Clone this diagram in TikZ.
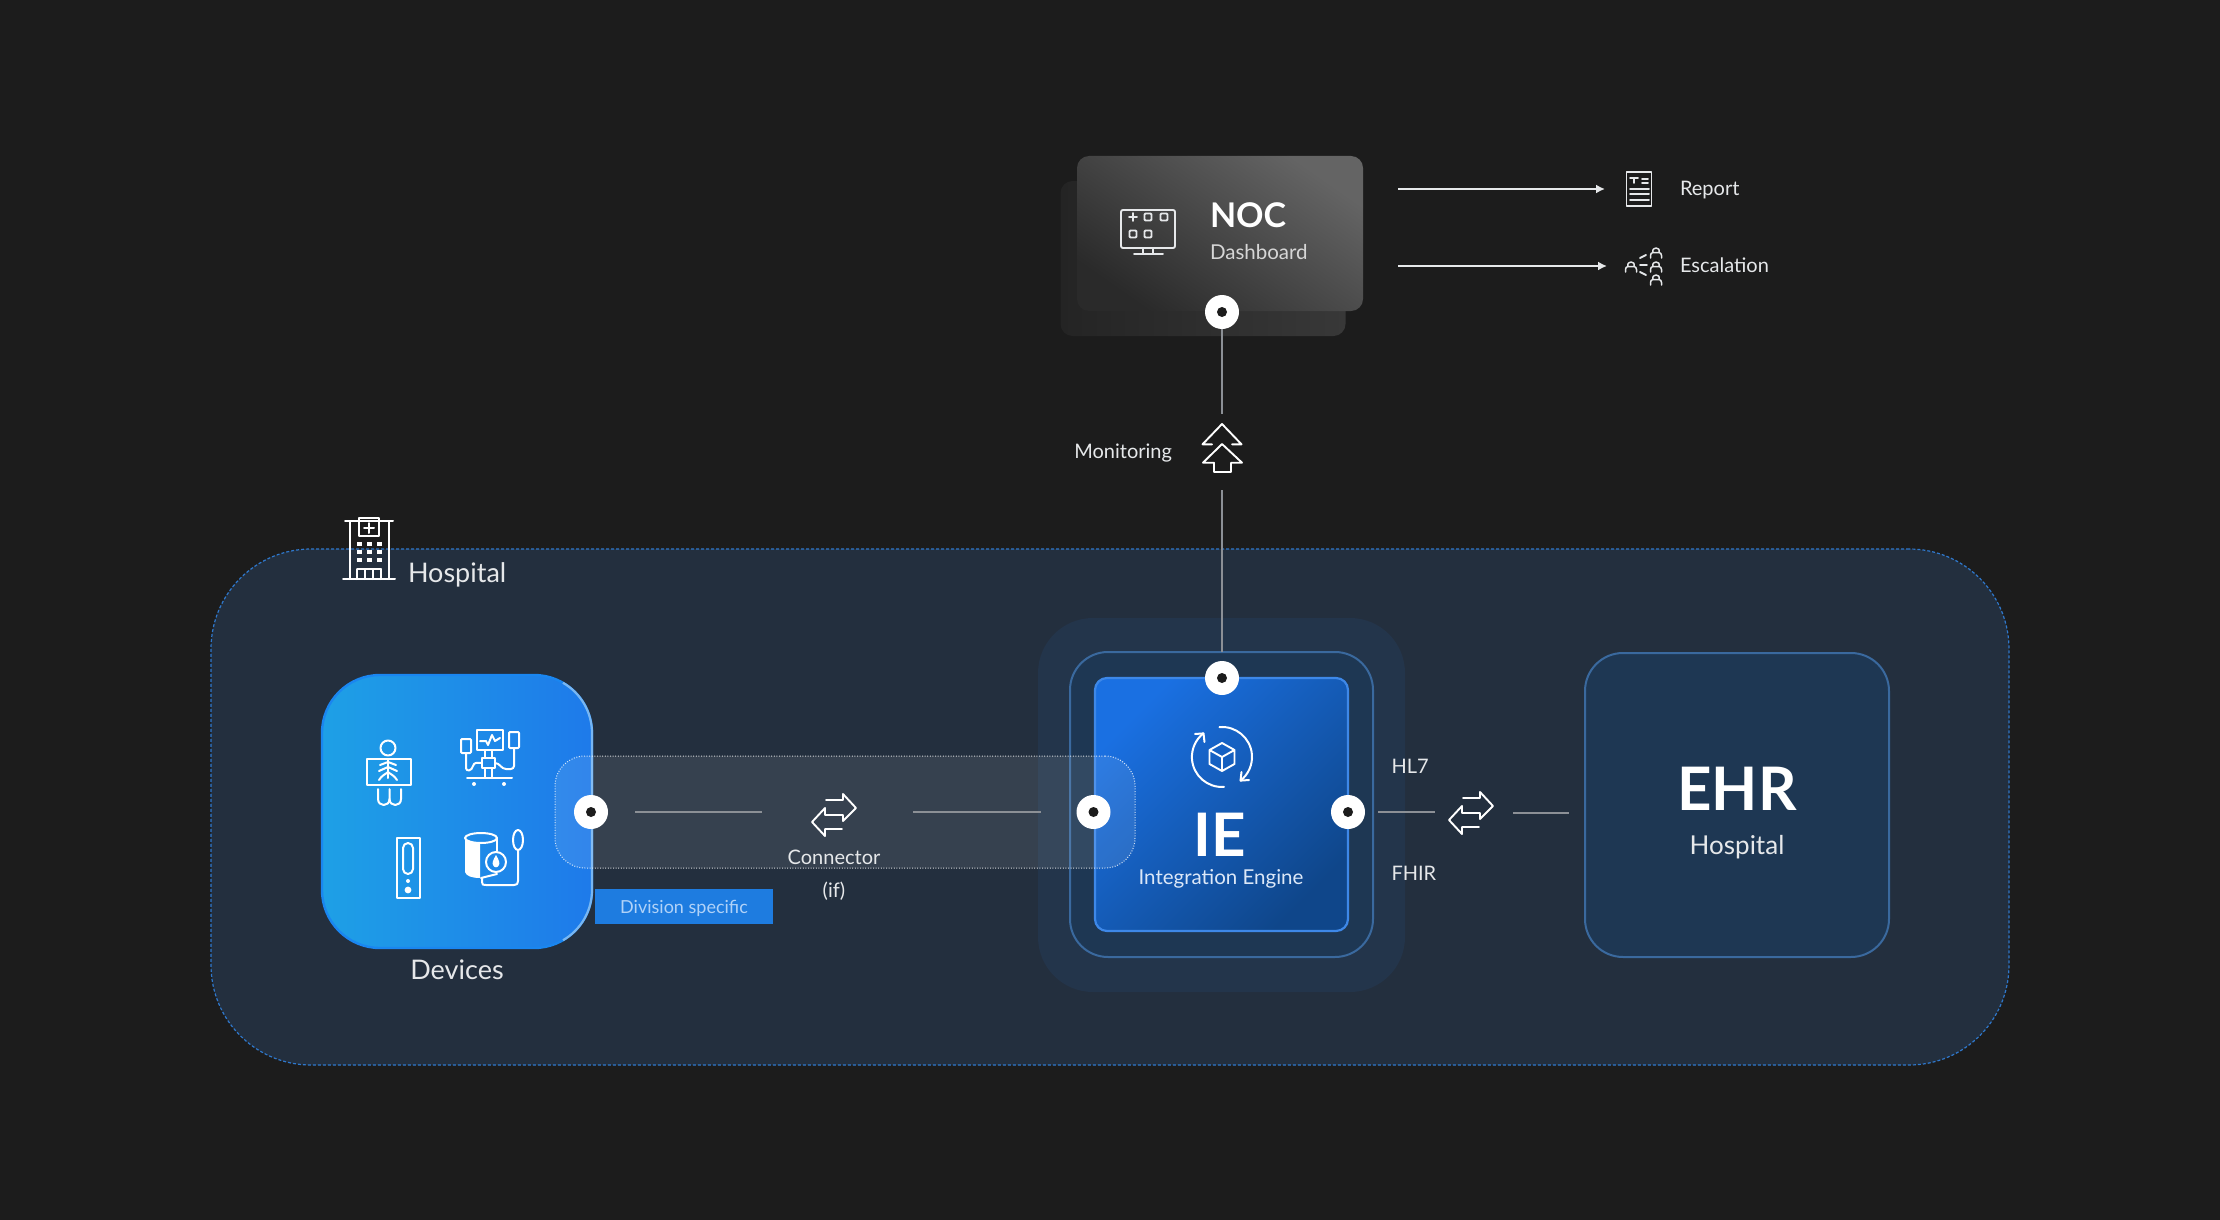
\documentclass[tikz,border=0pt]{standalone}
\usepackage{fontspec}
\setmainfont{Lato}
\usetikzlibrary{arrows.meta,calc}
\definecolor{bgc}{HTML}{1C1C1C}
\definecolor{hospfill}{HTML}{232F3E}
\definecolor{hospline}{HTML}{2F78CC}
\definecolor{glowfill}{HTML}{23354B}
\definecolor{midfill}{HTML}{1E3753}
\definecolor{midline}{HTML}{3A699E}
\definecolor{txt}{HTML}{E6E8EA}
\definecolor{linec}{HTML}{8C9096}
\definecolor{divc}{HTML}{1E7CE0}
\tikzset{
  x=1pt,y=-1pt,
  box/.style={rectangle,inner sep=0pt,outer sep=0pt},
  port/.style={circle,fill=white,minimum size=34pt,inner sep=0pt,outer sep=0pt},
  dot/.style={fill=bgc,draw=none},
  icon/.style={draw=white,line width=2pt,line cap=round,line join=round,fill=none},
  thinicon/.style={draw=#1,line width=1.9pt,line cap=round,line join=round,fill=none},
  thinicon/.default={txt},
  label/.style={text=txt,inner sep=0pt,outer sep=0pt},
  link/.style={draw=linec,line width=1.8pt},
  arr/.style={draw=txt,line width=1.8pt,-{Latex[length=9pt,width=9pt]}},
  slot/.style={rectangle,inner sep=0pt,outer sep=0pt},
}
\newcommand{\portdot}[1]{\fill[dot] (#1) circle[radius=5pt];}
\newcommand{\swapicon}[1]{%
  \begin{scope}[shift={(#1)}]
    \draw[thinicon=white] (-8,-15) -- (9,-15) -- (9,-21) -- (22,-7) -- (9,6) -- (9,0) -- (-9,0) -- (-9,-7) -- (-22,7) -- (-9,21) -- (-9,14) -- (8,14);
  \end{scope}}
\newcommand{\personglyph}[2]{%
  \draw[draw=txt,line width=1.5pt,line cap=round,line join=round] (#1-5.5,#2+5) -- (#1-5.5,#2+2.5) .. controls (#1-5.5,#2+0.5) and (#1-4.5,#2) .. (#1-3,#2-0.5) .. controls (#1-5,#2-6.5) and (#1+5,#2-6.5) .. (#1+3,#2-0.5) .. controls (#1+4.5,#2) and (#1+5.5,#2+0.5) .. (#1+5.5,#2+2.5) -- (#1+5.5,#2+5) (#1-3,#2-0.5) -- (#1+3,#2-0.5);}
\begin{document}
\begin{tikzpicture}
\useasboundingbox (0,0) rectangle (2220,1220);
\fill[bgc] (0,0) rectangle (2220,1220);

% NOC cards
\node[box,minimum width=285pt,minimum height=155pt,rounded corners=12pt,left color={rgb,255:red,36;green,36;blue,36},right color={rgb,255:red,56;green,56;blue,56}] (nocback) at (1203,258.5) {};
\node[box,minimum width=286pt,minimum height=155pt,rounded corners=12pt,shading=axis,left color={rgb,255:red,42;green,42;blue,42},right color={rgb,255:red,100;green,100;blue,100},shading angle=145] (noc) at (1220,233.5) {};

% Hospital region
\node[box,minimum width=1798pt,minimum height=516pt,rounded corners=100pt,fill=hospfill,draw=hospline,line width=1.2pt,dash pattern=on 3pt off 2pt] (hospital) at (1110,807) {};

% IE frames
\node[box,minimum width=367pt,minimum height=374pt,rounded corners=55pt,fill=glowfill] (ieglow) at (1221.5,805) {};
\node[box,minimum width=303pt,minimum height=305pt,rounded corners=38pt,fill=midfill,draw=midline,line width=2pt] (iemid) at (1221.5,804.5) {};
\node[box,minimum width=253pt,minimum height=253pt,rounded corners=12pt,shading=axis,left color={rgb,255:red,26;green,112;blue,226},right color={rgb,255:red,15;green,70;blue,138},shading angle=45,draw={rgb,255:red,62;green,136;blue,232},line width=2.2pt] (ie) at (1221.5,804.5) {};

% EHR
\node[box,minimum width=304pt,minimum height=304pt,rounded corners=38pt,fill=midfill,draw=midline,line width=2pt] (ehr) at (1737,805) {};

% Devices
\node[box,minimum width=270pt,minimum height=273pt,rounded corners=58pt,left color={rgb,255:red,30;green,160;blue,230},right color={rgb,255:red,30;green,122;blue,234},draw={rgb,255:red,26;green,134;blue,240},line width=2.4pt] (devices) at (457,811.5) {};
\draw[draw={rgb,255:red,120;green,182;blue,242},line width=2.2pt] ($(devices.north east)+(-29,7.8)$) arc[start angle=60,end angle=0,radius=58pt] -- ($(devices.south east)+(0,-58)$) arc[start angle=0,end angle=-60,radius=58pt];

% Connector band
\node[box,minimum width=580pt,minimum height=112pt,rounded corners=30pt,fill=white,fill opacity=0.09,draw=white,draw opacity=0.8,line width=1pt,dash pattern=on 1pt off 1.6pt] (band) at (845,812) {};

% Icon slots
\node[slot,minimum width=44pt,minimum height=42pt] (connicon) at (834,812) {};
\node[slot,minimum width=44pt,minimum height=42pt] (hlicon) at (1471,813) {};
\node[slot,minimum width=40pt,minimum height=49pt] (monicon) at (1222,448.5) {};
\node[slot,minimum width=26pt,minimum height=34pt] (repicon) at (1639,189) {};
\node[slot,minimum width=32pt,minimum height=38pt] (escicon) at (1644,266) {};
\coordinate (repstart) at (1398,189);
\coordinate (escstart) at (1398,266);

% Ports
\node[port] (portnoc) at (1222,312) {};
\node[port] (portdev) at (591,812) {};
\node[port] (portiel) at (1093.5,812) {};
\node[port] (portiet) at (1222,678) {};
\node[port] (portier) at (1348,812) {};
\portdot{portnoc}\portdot{portdev}\portdot{portiel}\portdot{portiet}\portdot{portier}

% Connectors
\draw[link,shorten >=10pt] (portnoc) -- (monicon.north);
\draw[link,shorten <=17pt,shorten >=9pt] (monicon.south) -- (portiet);
\draw[link,shorten <=27pt,shorten >=50pt] (portdev) -- (connicon);
\draw[link,shorten <=57pt,shorten >=36pt] (connicon) -- (portiel);
\draw[link,shorten <=13pt,shorten >=14pt] (portier) -- (portier -| hlicon.west);
\draw[link,shorten <=20pt,shorten >=16pt] (hlicon) -- (hlicon -| ehr.west);
\draw[arr,shorten >=21pt] (repstart) -- (repicon.west);
\draw[arr,shorten >=21pt] (escstart) -- (escstart -| escicon.west);

% Division tag
\node[box,fill=divc,minimum width=178pt,minimum height=35pt] (division) at (684,906.5) {};
\node[label,text={rgb,255:red,176;green,210;blue,248},font=\fontsize{18}{20}\selectfont] (divisiontext) at (684,908) {Division specific};

% Text
\node[label,font=\fontsize{27}{30}\selectfont,anchor=west] (hosplabel) at (408,575) {Hospital};
\node[label,font=\fontsize{27}{30}\selectfont] (devlabel) at (457,970) {Devices};
\node[label,font=\fontsize{20}{24}\selectfont] (connlabel) at (834,857) {Connector};
\node[label,font=\fontsize{20}{24}\selectfont] (iflabel) at (834,891.5) {(if)};
\node[label,font=\bfseries\fontsize{60}{64}\selectfont,text=white] (ietitle) at (1220,835) {IE};
\node[label,font=\fontsize{20.5}{24}\selectfont,text={rgb,255:red,220;green,232;blue,248}] (iesub) at (1221,879) {Integration Engine};
\node[label,font=\fontsize{20}{24}\selectfont,anchor=west] (hl7) at (1391.5,766.5) {HL7};
\node[label,font=\fontsize{20}{24}\selectfont,anchor=west] (fhir) at (1391.5,873.5) {FHIR};
\node[label,font=\bfseries\fontsize{60}{64}\selectfont,text=white] (ehrtitle) at (1737,788.5) {EHR};
\node[label,font=\fontsize{26}{30}\selectfont] (ehrsub) at (1737,847) {Hospital};
\node[label,font=\bfseries\fontsize{34}{38}\selectfont,text=white,anchor=west] (noctitle) at (1210,215.5) {NOC};
\node[label,font=\fontsize{20.5}{24}\selectfont,text={rgb,255:red,214;green,214;blue,214},anchor=west] (nocsub) at (1210,252.5) {Dashboard};
\node[label,font=\fontsize{20}{24}\selectfont,anchor=east] (monlabel) at (1172,453) {Monitoring};
\node[label,font=\fontsize{20}{24}\selectfont,anchor=west] (replabel) at (1680,190.5) {Report};
\node[label,font=\fontsize{20}{24}\selectfont,anchor=west] (esclabel) at (1680,265.5) {Escalation};

% Swap icons
\swapicon{$(connicon)+(0,3)$}
\swapicon{hlicon}

% Monitoring icon
\begin{scope}[shift={(monicon)}]
  \draw[thinicon=white] (-10,-4.2) -- (-19.5,-4.2) -- (0,-24.5) -- (19.5,-4.2) -- (10,-4.2);
  \draw[thinicon=white] (0,-4.5) -- (-19,14.2) -- (-8,14.2) -- (-8,23.5) -- (9,23.5) -- (9,14.2) -- (20,14.2) -- cycle;
\end{scope}

% NOC monitor icon
\begin{scope}[shift={(1148,229)}]
  \draw[thinicon,rounded corners=2pt] (-27,-19) rectangle (27,19);
  \draw[thinicon] (-5,19) -- (-5,25) (5,19) -- (5,25) (-14,25) -- (15,25);
  \draw[thinicon] (-19,-12) -- (-11,-12) (-15,-16) -- (-15,-8);
  \draw[thinicon,rounded corners=1pt] (-3.5,-15.5) rectangle (3.5,-8.5);
  \draw[thinicon,rounded corners=1pt] (12.5,-15.5) rectangle (19.5,-8.5);
  \draw[thinicon,rounded corners=1pt] (-18.5,1.5) rectangle (-11.5,8.5);
  \draw[thinicon,rounded corners=1pt] (-3.5,1.5) rectangle (3.5,8.5);
\end{scope}

% Report icon
\begin{scope}[shift={(repicon)}]
  \draw[thinicon] (-12.5,-17) rectangle (12.5,17);
  \draw[thinicon] (-9,-11) -- (-1,-11) (-5,-11) -- (-5,-6) (3,-10) -- (9,-10) (3,-6) -- (9,-6) (-9,0) -- (10,0) (-9,5) -- (10,5) (-9,11) -- (10,11);
\end{scope}

% Escalation icon
\personglyph{1631}{267}
\personglyph{1656}{253}
\personglyph{1656}{267}
\personglyph{1656}{280}
\draw[thinicon] (1640,258) -- (1646,255) (1640,265) -- (1647,265) (1640,272) -- (1646,275);

% Hospital building icon
\begin{scope}[line width=1.8pt,draw=white]
  \draw[icon] (345,521) -- (393,521);
  \draw[icon] (359,518) rectangle (379,536);
  \draw[icon] (369,523) -- (369,533) (364,528) -- (374,528);
  \draw[icon] (350,521) -- (350,579) (389,521) -- (389,579);
  \draw[icon] (343,579) -- (395,579);
  \draw[icon] (357,569) -- (381,569) (357,569) -- (357,579) (365,569) -- (365,579) (373,569) -- (373,579) (381,569) -- (381,579);
  \foreach \yy in {544,552,560}{\foreach \xx in {359,369,379}{\fill[white] (\xx-2.5,\yy-2) rectangle (\xx+2.5,\yy+2);}}
\end{scope}

% Cube icon in IE
\begin{scope}[shift={(1222,757)}]
  \draw[icon] (-2.6,-29.9) arc[start angle=95,end angle=-52,radius=30pt];
  \draw[icon] (18.5,23.6) -- (19.5,15) (18.5,23.6) -- (27,23);
  \draw[icon] (2,29.9) arc[start angle=-86,end angle=-232,radius=30pt];
  \draw[icon] (-18.5,-23.6) -- (-27,-23) (-18.5,-23.6) -- (-17.5,-15);
  \draw[thinicon=white] (0,-14) -- (12.5,-7) -- (12.5,7) -- (0,14) -- (-12.5,7) -- (-12.5,-7) -- cycle (-12.5,-7) -- (0,0) -- (12.5,-7) (0,0) -- (0,14);
\end{scope}

% X-ray icon
\begin{scope}[line width=1.8pt]
  \draw[icon] (388,748) circle[radius=7.5pt];
  \draw[icon] (367,759) rectangle (411,785);
  \draw[icon] (388,760) -- (388,778);
  \draw[icon] (380,765) -- (388,762) -- (396,765) (379,771) -- (388,767) -- (397,771) (379,780) .. controls (382,775) and (386,774) .. (388,772) .. controls (390,774) and (394,775) .. (397,780);
  \draw[icon] (378,789) -- (378,799) .. controls (378,807) and (389.5,807) .. (389.5,799) -- (389.5,789);
  \draw[icon] (389.5,799) .. controls (389.5,807) and (401,807) .. (401,799) -- (401,789);
\end{scope}

% Patient monitor icon
\draw[icon] (477,730) rectangle (503,750);
\draw[icon] (480,741) -- (486,741) -- (488,745) -- (492,735) -- (495,741) -- (500,738);
\draw[icon,rounded corners=1pt] (461,739) rectangle (471,753);
\draw[icon,rounded corners=1pt] (509,732) rectangle (519,748);
\draw[icon] (482,758) rectangle (495,768);
\draw[icon] (485,750) -- (485,758) (492,750) -- (492,758) (485,768) -- (485,778) (492,768) -- (492,778);
\draw[icon] (467,778) -- (512,778);
\draw[icon] (466,753) -- (466,768) .. controls (466,772) and (472,771) .. (473,766) .. controls (474,762) and (477,763) .. (482,763);
\draw[icon] (514,748) -- (514,766) .. controls (514,770) and (508,769) .. (506,769) .. controls (501,769) and (500,763) .. (495,763);
\fill[white] (474,784) circle[radius=2pt] (504,784) circle[radius=2pt];

% Pump icon
\draw[icon] (397,838) rectangle (420,898);
\draw[icon,rounded corners=5pt] (403,843) rectangle (413,874);
\fill[white] (408,881) circle[radius=2pt] (408,890) circle[radius=3.4pt];

% Blood pressure icon
\fill[white] (465,838) -- (465,872) .. controls (466,876) and (472,878) .. (480,878) -- (480,843) .. controls (472,843) and (466,841) .. (465,838) -- cycle;
\draw[icon] (481,838) ellipse[x radius=16pt,y radius=5pt];
\draw[icon] (497,838) -- (497,851);
\draw[icon] (481,878) -- (497,874);
\draw[icon] (496,862) circle[radius=10pt];
\fill[white] (496,855) .. controls (493,860) and (492,863) .. (493,865) .. controls (494,868) and (498,868) .. (499,865) .. controls (500,863) and (499,860) .. (496,855) -- cycle;
\draw[icon] (482,878) -- (482,882) .. controls (482,885) and (483,885) .. (486,885) -- (514,885) .. controls (517,885) and (518,884) .. (518,881) -- (518,850);
\draw[icon] (518,840) ellipse[x radius=5pt,y radius=10pt];
\end{tikzpicture}
\end{document}
